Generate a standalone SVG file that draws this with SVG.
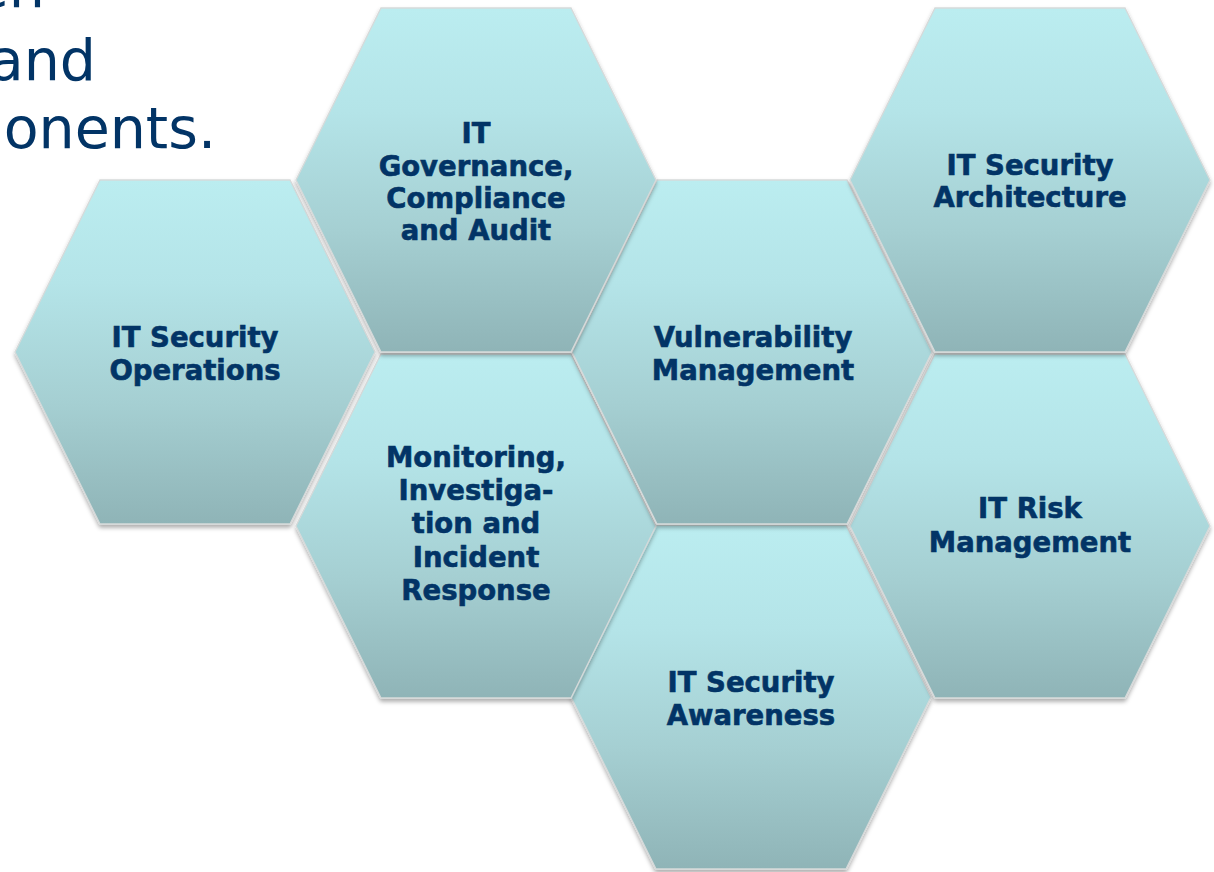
<svg xmlns="http://www.w3.org/2000/svg" width="1214" height="872" viewBox="0 0 1214 872">
  <defs>
    <linearGradient id="hexFill" x1="0" y1="0" x2="0" y2="1">
      <stop offset="0" stop-color="#bbedf0"/>
      <stop offset="0.3" stop-color="#b4e4e8"/>
      <stop offset="0.65" stop-color="#a5cfd2"/>
      <stop offset="1" stop-color="#8fb4b7"/>
    </linearGradient>
    <filter id="hexShadow" x="-10%" y="-10%" width="120%" height="125%">
      <feDropShadow dx="0" dy="3" stdDeviation="2.2" flood-color="#000" flood-opacity="0.32"/>
    </filter>
    <!-- flat-topped hexagon, centred on the origin -->
    <polygon id="hex" points="-180,0 -95,-172 95,-172 180,0 95,172 -95,172"/>
  </defs>
  <style>
    .hex { fill: url(#hexFill); stroke: #d6dada; stroke-width: 1.3; filter: url(#hexShadow); }
    .label { font-family: "DejaVu Sans", Verdana, sans-serif; font-weight: bold; font-size: 27.5px; fill: #023466; stroke: #023466; stroke-width: 0.6; text-anchor: middle; }
    .heading { font-family: "DejaVu Sans", Verdana, sans-serif; font-size: 57px; fill: #023466; text-anchor: end; }
  </style>

  <rect width="1214" height="872" fill="#ffffff"/>

  <!-- heading text, running off the left/top edges -->
  <g id="heading">
    <text class="heading" x="45" y="7">en</text>
    <text class="heading" x="96" y="80">and</text>
    <text class="heading" x="216" y="148">onents.</text>
  </g>

  <!-- hexagons, lower rows first so shadows fall onto them -->
  <g id="awareness">
    <use href="#hex" class="hex" x="751" y="697"/>
    <text class="label" x="751" y="692">IT Security</text>
    <text class="label" x="751" y="725">Awareness</text>
  </g>

  <g id="monitoring">
    <use href="#hex" class="hex" x="476" y="526"/>
    <text class="label" x="476" y="467">Monitoring,</text>
    <text class="label" x="476" y="500">Investiga-</text>
    <text class="label" x="476" y="533">tion and</text>
    <text class="label" x="476" y="567">Incident</text>
    <text class="label" x="476" y="600">Response</text>
  </g>

  <g id="risk-management">
    <use href="#hex" class="hex" x="1030" y="526"/>
    <text class="label" x="1030" y="518">IT Risk</text>
    <text class="label" x="1030" y="552">Management</text>
  </g>

  <g id="security-operations">
    <use href="#hex" class="hex" x="195" y="352"/>
    <text class="label" x="195" y="347">IT Security</text>
    <text class="label" x="195" y="380">Operations</text>
  </g>

  <g id="vulnerability-management">
    <use href="#hex" class="hex" x="752" y="352"/>
    <text class="label" x="753" y="347">Vulnerability</text>
    <text class="label" x="753" y="380">Management</text>
  </g>

  <g id="governance">
    <use href="#hex" class="hex" x="476" y="180"/>
    <text class="label" x="476" y="143">IT</text>
    <text class="label" x="476" y="176">Governance,</text>
    <text class="label" x="476" y="208">Compliance</text>
    <text class="label" x="476" y="240">and Audit</text>
  </g>

  <g id="security-architecture">
    <use href="#hex" class="hex" x="1030" y="180"/>
    <text class="label" x="1030" y="175">IT Security</text>
    <text class="label" x="1030" y="207">Architecture</text>
  </g>
</svg>
